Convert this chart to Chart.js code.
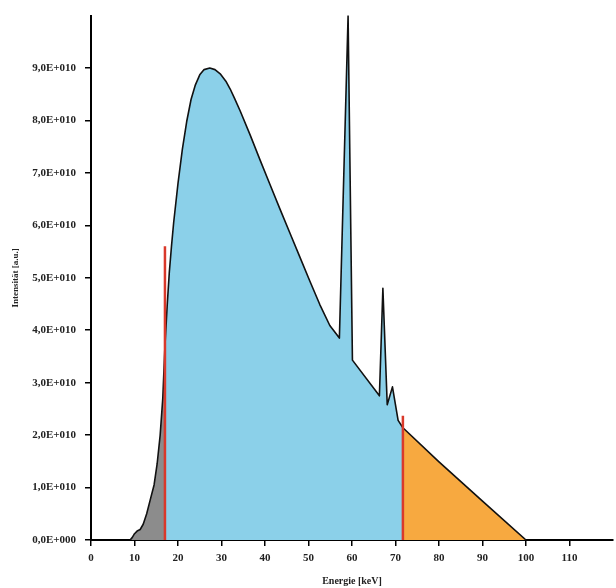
<!DOCTYPE html>
<html>
<head>
<meta charset="utf-8">
<title>Energiespektrum</title>
<script src="https://cdn.jsdelivr.net/npm/chart.js@4/dist/chart.umd.min.js"></script>
<style>
  html, body { margin: 0; padding: 0; background: #fff; }
  #spectrumChart { display: block; }
</style>
</head>
<body>
<canvas id="spectrumChart" width="616" height="588"></canvas>
<script>
  'use strict';

  // Spectrum (energy in keV, intensity in units of 1E+010)
  const energy = [9, 9.5, 10, 10.6, 11.3, 12, 12.8, 13.6, 14.5, 15.2,
    15.9, 16.5, 17, 17.5, 18, 18.5, 19, 20, 21, 22,
    23, 24, 25, 26, 27.3, 28.5, 29.7, 31, 32, 33,
    34.3, 36.6, 38.9, 41.1, 43.4, 45.7, 48, 50.3, 52.6, 54.9,
    57.1, 59.1, 60.1, 66.3, 67.1, 68.1, 69.3, 70.6, 71.7, 80,
    90, 100];
  const intensity = [0, 0.05, 0.12, 0.17, 0.2, 0.3, 0.5, 0.76, 1.05, 1.45,
    2.0, 2.7, 3.7, 4.45, 5.1, 5.6, 6.05, 6.8, 7.45, 7.98,
    8.4, 8.68, 8.87, 8.97, 9.0, 8.97, 8.89, 8.75, 8.6, 8.42,
    8.18, 7.72, 7.24, 6.79, 6.32, 5.86, 5.4, 4.94, 4.49, 4.09,
    3.85, 10.0, 3.43, 2.75, 4.8, 2.58, 2.92, 2.28, 2.14, 1.49,
    0.74, 0];

  // red cut-off markers (keV) and how high they reach (1E+010)
  const cutoffs = [17, 71.7];
  const cutoffTops = [5.6, 2.37];

  const xTicks = [0, 10, 20, 30, 40, 50, 60, 70, 80, 90, 100, 110];
  const yTicks = [0, 1, 2, 3, 4, 5, 6, 7, 8, 9];
  const UNIT = 1e10;

  const GRAY = '#8c8c8c';
  const BLUE = '#8bd0e9';
  const ORANGE = '#f7a940';
  const RED = '#d9392b';

  const serif = 'Liberation Serif, Times New Roman, serif';

  const spectrum = energy.map((e, i) => ({ x: e, y: intensity[i] * UNIT }));

  const markers = cutoffs.map((c, i) => ({
    type: 'line',
    data: [{ x: c, y: 0 }, { x: c, y: cutoffTops[i] * UNIT }],
    borderColor: RED,
    borderWidth: 2.5,
    pointRadius: 0,
    fill: false,
    order: 0
  }));

  // fill colour depends on which side of the cut-offs a segment is
  function zoneColor(x) {
    if (x < cutoffs[0]) return GRAY;
    if (x < cutoffs[1]) return BLUE;
    return ORANGE;
  }

  new Chart(document.getElementById('spectrumChart'), {
    type: 'line',
    data: {
      datasets: [{
        label: 'Intensität',
        data: spectrum,
        borderColor: '#111',
        borderWidth: 1.6,
        borderJoinStyle: 'round',
        backgroundColor: BLUE,
        pointRadius: 0,
        fill: 'origin',
        tension: 0,
        segment: {
          backgroundColor: ctx => zoneColor(ctx.p0.parsed.x)
        },
        order: 1
      }, ...markers]
    },
    options: {
      responsive: false,
      animation: false,
      layout: { padding: { top: 13, right: 3, left: 0, bottom: 0 } },
      plugins: {
        legend: { display: false },
        tooltip: { enabled: false }
      },
      scales: {
        x: {
          type: 'linear',
          min: 0,
          max: 120,
          afterFit: s => { s.height = 48; },
          afterBuildTicks: s => { s.ticks = xTicks.map(v => ({ value: v })); },
          border: { color: '#000', width: 2 },
          grid: { drawOnChartArea: false, drawTicks: true, tickLength: 6, color: '#000', lineWidth: 1.5 },
          ticks: {
            autoSkip: false,
            maxRotation: 0,
            padding: 6,
            color: '#222',
            font: { family: serif, size: 11, weight: 'bold' }
          },
          title: {
            display: true,
            text: 'Energie [keV]',
            color: '#222',
            padding: { top: 0, bottom: 1 },
            font: { family: serif, size: 10, weight: 'bold' }
          }
        },
        y: {
          min: 0,
          max: 10 * UNIT,
          afterFit: s => { s.width = 91; },
          afterBuildTicks: s => { s.ticks = yTicks.map(v => ({ value: v * UNIT })); },
          border: { color: '#000', width: 2 },
          grid: { drawOnChartArea: false, drawTicks: true, tickLength: 6, color: '#000', lineWidth: 1.5 },
          ticks: {
            padding: 9,
            color: '#222',
            font: { family: serif, size: 11, weight: 'bold' },
            callback: v => {
              const n = Math.round(v / UNIT);
              if (n === 0) return '0,0E+000';
              return n.toFixed(1).replace('.', ',') + 'E+010';
            }
          },
          title: {
            display: true,
            text: 'Intensität [a.u.]',
            color: '#222',
            padding: { top: 10, bottom: 0 },
            font: { family: serif, size: 9, weight: 'bold' }
          }
        }
      }
    }
  });
</script>
</body>
</html>
